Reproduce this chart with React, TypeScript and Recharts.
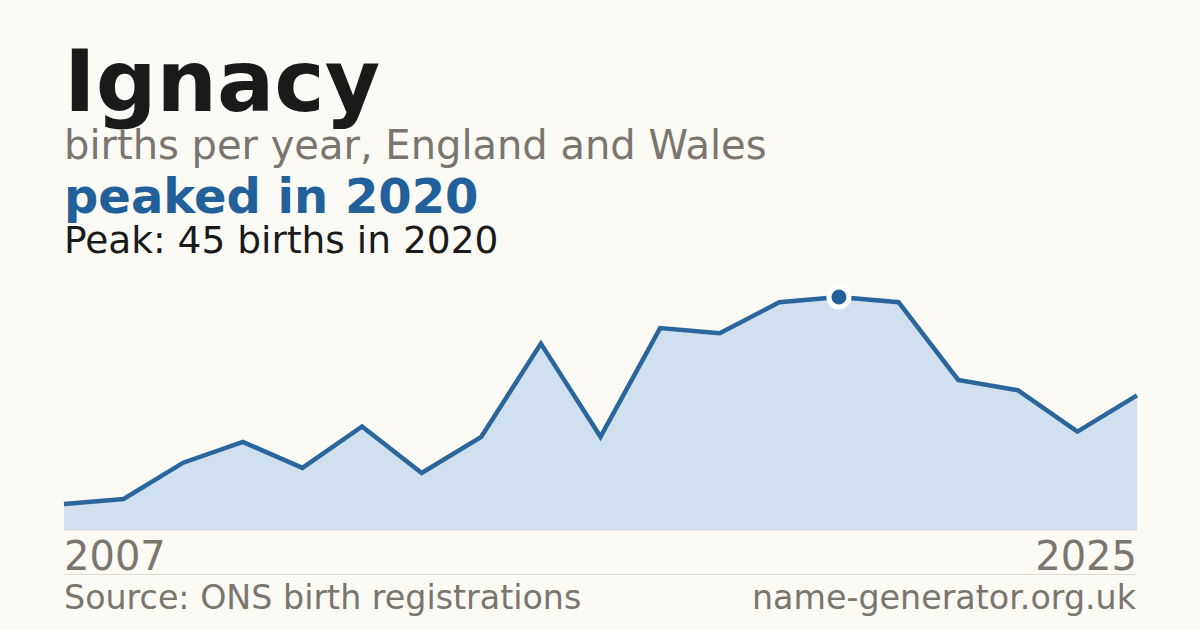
import { Area, AreaChart, ReferenceLine, XAxis, YAxis } from 'recharts';

const years = [
  2007, 2008, 2009, 2010, 2011, 2012, 2013, 2014, 2015, 2016, 2017, 2018,
  2019, 2020, 2021, 2022, 2023, 2024, 2025,
];
const births = [
  5, 6, 13, 17, 12, 20, 11, 18, 36, 18, 39, 38, 44, 45, 44, 29, 27, 19, 26,
];

const data = years.map((year, i) => ({ year, births: births[i] }));
const peak = Math.max(...births);
const peakIndex = births.indexOf(peak);

const font = '"DejaVu Sans", sans-serif';
const grey = '#7a756e';
const ink = '#1a1a1a';
const blue = '#21609a';

const YearTick = ({ x, y, index }: any) => {
  if (index !== 0 && index !== years.length - 1) return null;
  return (
    <text
      x={x}
      y={y}
      dy={40}
      textAnchor={index === 0 ? 'start' : 'end'}
      fill={grey}
      fontSize={40}
      fontFamily={font}>
      {years[index]}
    </text>
  );
};

const PeakDot = ({ cx, cy, index }: any) => {
  if (index !== peakIndex) return null;
  return (
    <circle
      key='peak'
      cx={cx}
      cy={cy}
      r={10}
      fill={blue}
      stroke='#ffffff'
      strokeWidth={5}
    />
  );
};

export default function App() {
  return (
    <div
      style={{
        position: 'fixed',
        left: 0,
        top: 0,
        width: 1200,
        height: 630,
        background: '#fbfaf5',
        overflow: 'hidden',
      }}>
      <svg
        width={1200}
        height={630}
        style={{ position: 'absolute', left: 0, top: 0 }}
        fontFamily={font}>
        <text x={64} y={111} fontSize={85} fontWeight='bold' fill={ink}>
          Ignacy
        </text>
        <text x={64} y={159} fontSize={40} fill={grey}>
          births per year, England and Wales
        </text>
        <text x={64} y={213} fontSize={48} fontWeight='bold' fill={blue}>
          peaked in 2020
        </text>
        <text x={64} y={253} fontSize={37.5} fill={ink}>
          Peak: {peak} births in {years[peakIndex]}
        </text>
        <line x1={64} x2={1137} y1={574.5} y2={574.5} stroke='#dedbd4' />
        <text x={64} y={609} fontSize={33.3} fill={grey}>
          Source: ONS birth registrations
        </text>
        <text x={1136} y={609} fontSize={33.3} fill={grey} textAnchor='end'>
          name-generator.org.uk
        </text>
      </svg>
      <div style={{ position: 'absolute', left: 0, top: 0 }}>
        <AreaChart
          width={1200}
          height={630}
          data={data}
          margin={{ top: 297, right: 63, bottom: 40, left: 64 }}>
          <XAxis
            dataKey='year'
            height={60}
            axisLine={false}
            tickLine={false}
            tickSize={0}
            tickMargin={0}
            interval={0}
            tick={<YearTick />}
          />
          <YAxis hide domain={[0, peak]} />
          <ReferenceLine y={0} stroke='#d8d6d0' strokeWidth={1} />
          <Area
            type='linear'
            dataKey='births'
            stroke='#2a659b'
            strokeWidth={4.5}
            fill='#d0e0ef'
            fillOpacity={1}
            dot={<PeakDot />}
            activeDot={false}
            isAnimationActive={false}
          />
        </AreaChart>
      </div>
    </div>
  );
}
